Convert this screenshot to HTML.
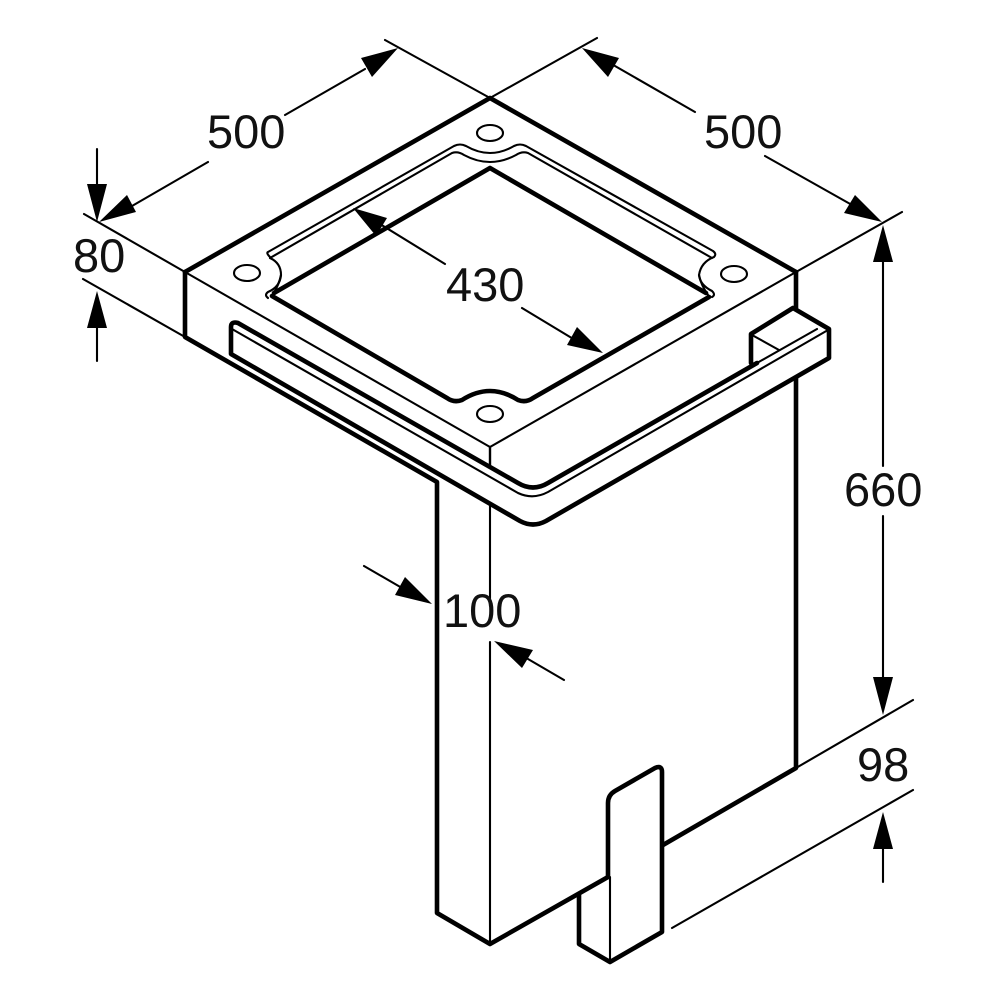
<!DOCTYPE html>
<html><head><meta charset="utf-8"><style>
html,body{margin:0;padding:0;background:#fff}
svg{display:block}
text{font-family:"Liberation Sans",sans-serif;font-size:47px;fill:#111}
.k{fill:none;stroke:#000;stroke-width:4.6;stroke-linejoin:round;stroke-linecap:round}
.t{fill:none;stroke:#000;stroke-width:2.1;stroke-linecap:round;stroke-linejoin:round}
.a{fill:#000;stroke:none}
</style></head><body>
<svg width="1000" height="1000" viewBox="0 0 1000 1000" xmlns="http://www.w3.org/2000/svg">
<!-- top face -->
<path class="k" d="M185 272L490 98L796 272"/>
<path class="t" d="M185 272L490 447L796 272"/>
<path class="k" d="M185 272V337L437 482V913L490 944L608 877"/>
<path class="k" d="M663 845L796 768V378"/>
<path class="k" d="M796 272V308"/>
<path class="k" d="M490 447V465" style="stroke-width:2.4"/>
<path class="t" d="M490 505V606M490 642V944"/>
<!-- opening -->
<path class="k" d="M274 293L490 168L706 293"/>
<path class="k" d="M272 296L447 398Q454 403 462 400Q476 391 490 391Q504 391 518 400Q526 403 533 398L709 297"/>
<!-- rim -->
<path class="t" d="M270 257Q266 253 268 252L454 146Q460 143 466 146Q478 153 490 153Q502 153 514 146Q520 143 526 146L713 251Q717 254 714 257Q701 262 699 275Q700 285 712 291Q716 295 712 297"/>
<path class="t" d="M270 258L452 153Q458 151 464 155Q477 162 490 162Q503 162 516 155Q522 151 528 153L712 258"/>
<path class="t" d="M270 258Q281 263 281 275Q280 287 268 292Q264 295 268 298"/>
<path class="t" d="M281 275Q279 285 272 296M699 275Q701 285 708 295"/>
<!-- holes -->
<ellipse class="t" cx="490" cy="133" rx="13" ry="8"/>
<ellipse class="t" cx="247" cy="273" rx="13" ry="8"/>
<ellipse class="t" cx="734" cy="274" rx="13" ry="8"/>
<ellipse class="t" cx="490" cy="414" rx="13" ry="8"/>
<!-- lip -->
<path class="k" d="M751 363V334L793 308L829 329V358L546 521Q533 528 520 521L487 502L231 354V327Q231 321 238 323L518 483Q533 492 548 483L757 363"/>
<path class="t" d="M232 329L518 493Q533 500 548 492L828 330"/>
<path class="t" d="M752 335L779 350M757 363L817 329"/>
<!-- tab -->
<path class="k" d="M608 877V803Q608 795 615 791L655 768Q662 765 662 772V932L610 962L579 944V895"/>
<path class="t" d="M610 877V962"/>
<!-- extension lines -->
<path class="t" d="M385 40L490 98L597 38"/>
<path class="t" d="M185 272L84 214M185 337L83 279M796 272L902 212"/>
<path class="t" d="M796 768L913 700M672 928L913 790"/>
<!-- 500 left -->
<path class="t" d="M132 206L208 162M285 115L365 69"/>
<path class="a" d="M99 222L127 195L136 212ZM398 48L372 77L361 58Z"/>
<!-- 500 right -->
<path class="t" d="M615 66L695 112M765 156L852 205"/>
<path class="a" d="M582 48L619 58L608 77ZM882 222L844 213L855 195Z"/>
<!-- 80 -->
<path class="t" d="M97 149V186M97 327V361"/>
<path class="a" d="M97 222L87 184H107ZM97 291L87 328H107Z"/>
<!-- 430 -->
<path class="t" d="M380 224L445 264M522 308L575 340"/>
<path class="a" d="M353 208L387 218L376 236ZM603 353L567 345L577 327Z"/>
<!-- 660 -->
<path class="t" d="M883 262V466M883 516V678"/>
<path class="a" d="M883 225L873 262H893ZM883 715L873 677H893Z"/>
<!-- 98 -->
<path class="t" d="M883 849V882"/>
<path class="a" d="M883 812L873 849H893Z"/>
<!-- 100 -->
<path class="t" d="M364 566L402 588M528 659L564 680"/>
<path class="a" d="M432 604L395 595L405 577ZM494 641L533 650L522 668Z"/>
<!-- labels -->
<text x="207" y="148">500</text>
<text x="704" y="148">500</text>
<text x="446" y="301">430</text>
<text x="73" y="272">80</text>
<text x="844" y="506">660</text>
<text x="443" y="627">100</text>
<text x="857" y="781">98</text>
</svg>
</body></html>
